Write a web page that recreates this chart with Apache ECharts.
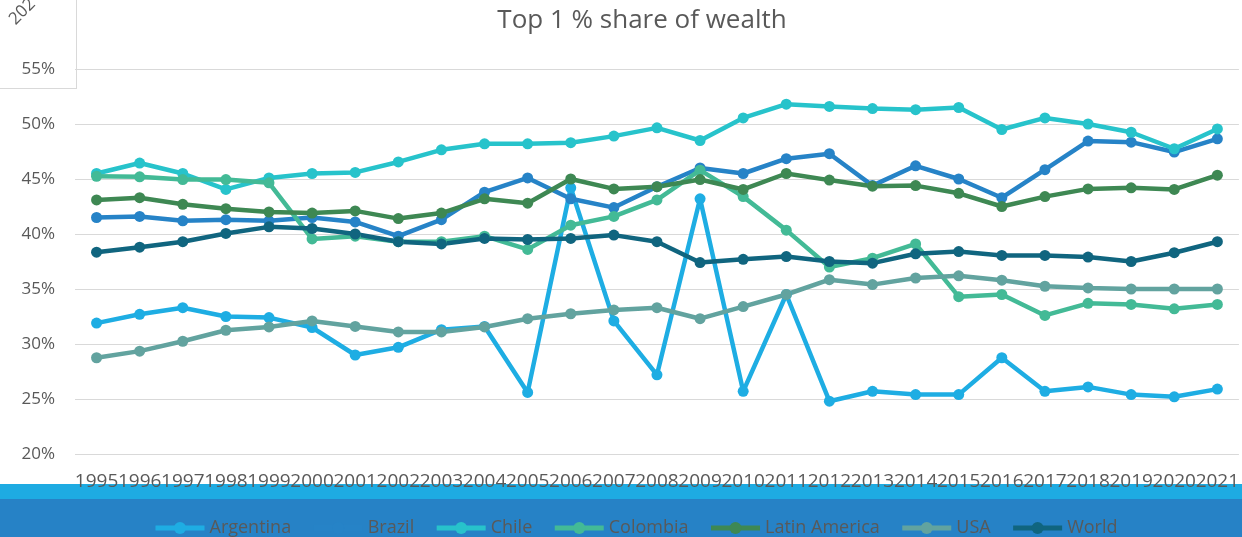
<!DOCTYPE html>
<html>
<head>
<meta charset="utf-8">
<script src="https://cdn.jsdelivr.net/npm/echarts@6/dist/echarts.min.js"></script>
<style>
  html, body { margin: 0; padding: 0; background: #ffffff; }
  #chart { width: 1242px; height: 537px; }
</style>
</head>
<body>
<div id="chart"></div>
<script>
const titleText = 'Top 1 % share of wealth';
const cornerText = '202';
const years = ['1995','1996','1997','1998','1999','2000','2001','2002','2003','2004','2005','2006','2007','2008','2009','2010','2011','2012','2013','2014','2015','2016','2017','2018','2019','2020','2021'];

const argentina = [31.9, 32.7, 33.3, 32.5, 32.4, 31.5, 29.0, 29.7, 31.3, 31.6, 25.6, 44.2, 32.1, 27.2, 43.2, 25.7, 34.5, 24.8, 25.7, 25.4, 25.4, 28.75, 25.7, 26.1, 25.4, 25.2, 25.9];
const brazil = [41.5, 41.6, 41.2, 41.3, 41.2, 41.5, 41.1, 39.8, 41.3, 43.8, 45.1, 43.2, 42.4, 44.3, 46.0, 45.5, 46.85, 47.3, 44.4, 46.2, 45.0, 43.3, 45.85, 48.45, 48.35, 47.45, 48.65];
const chile = [45.5, 46.45, 45.5, 44.05, 45.1, 45.5, 45.6, 46.55, 47.65, 48.2, 48.2, 48.3, 48.9, 49.65, 48.5, 50.55, 51.8, 51.6, 51.4, 51.3, 51.5, 49.5, 50.55, 50.0, 49.25, 47.75, 49.55];
const colombia = [45.25, 45.2, 44.95, 44.95, 44.65, 39.55, 39.8, 39.3, 39.3, 39.8, 38.6, 40.8, 41.6, 43.1, 45.8, 43.4, 40.35, 37.0, 37.8, 39.1, 34.3, 34.5, 32.6, 33.7, 33.6, 33.2, 33.6];
const latinAmerica = [43.1, 43.3, 42.7, 42.3, 42.0, 41.9, 42.1, 41.4, 41.9, 43.2, 42.8, 45.0, 44.1, 44.3, 44.95, 44.05, 45.5, 44.9, 44.35, 44.4, 43.7, 42.5, 43.4, 44.1, 44.2, 44.05, 45.35];
const usa = [28.75, 29.35, 30.25, 31.25, 31.55, 32.1, 31.6, 31.1, 31.1, 31.55, 32.3, 32.75, 33.1, 33.3, 32.3, 33.4, 34.5, 35.85, 35.4, 36.0, 36.2, 35.8, 35.25, 35.1, 35.0, 35.0, 35.0];
const world = [38.35, 38.8, 39.3, 40.05, 40.65, 40.5, 40.0, 39.3, 39.1, 39.6, 39.5, 39.6, 39.9, 39.3, 37.4, 37.7, 37.95, 37.5, 37.35, 38.2, 38.4, 38.05, 38.05, 37.9, 37.5, 38.3, 39.3];

const seriesNames = ['Argentina', 'Brazil', 'Chile', 'Colombia', 'Latin America', 'USA', 'World'];
const seriesData = [argentina, brazil, chile, colombia, latinAmerica, usa, world];
const seriesColors = ['#1EADE3', '#2683C7', '#27C3CB', '#43BA96', '#3E8853', '#62A39F', '#10657F'];

const FONT = '"Open Sans", "Noto Sans", sans-serif';
const TXT = '#595959';

const chart = echarts.init(document.getElementById('chart'), null, { renderer: 'canvas' });

const option = {
  animation: false,
  backgroundColor: '#ffffff',
  title: {
    text: titleText,
    left: 637,
    textAlign: 'center',
    top: 3,
    textStyle: { color: TXT, fontFamily: FONT, fontSize: 26, fontWeight: 'normal' }
  },
  graphic: [
    { type: 'rect', z: -10, silent: true, shape: { x: 0, y: 484, width: 1242, height: 15 }, style: { fill: '#1EABE2' } },
    { type: 'rect', z: -10, silent: true, shape: { x: 0, y: 499, width: 1242, height: 38 }, style: { fill: '#2682C6' } },
    { type: 'line', z: 10, silent: true, shape: { x1: 76.5, y1: 0, x2: 76.5, y2: 88 }, style: { stroke: '#D9D9D9', lineWidth: 1 } },
    { type: 'line', z: 10, silent: true, shape: { x1: 0, y1: 88.5, x2: 77, y2: 88.5 }, style: { stroke: '#D9D9D9', lineWidth: 1 } },
    { type: 'text', z: 10, silent: true, x: 6, y: 16, rotation: Math.PI / 4,
      style: { text: cornerText, fill: TXT, font: '17px "Open Sans", sans-serif', textBaseline: 'bottom', textAlign: 'left' } }
  ],
  legend: {
    data: seriesNames,
    left: 153,
    top: 519,
    padding: 0,
    itemGap: 20,
    itemWidth: 49,
    itemHeight: 15,
    lineStyle: { width: 5 },
    textStyle: { color: TXT, fontFamily: FONT, fontSize: 18 }
  },
  grid: { left: 75, top: 69, width: 1169, height: 385, containLabel: false },
  xAxis: {
    type: 'category',
    data: years,
    boundaryGap: true,
    axisLine: { show: false },
    axisTick: { show: false },
    axisLabel: { interval: 0, color: TXT, fontFamily: FONT, fontSize: 19, margin: 18, hideOverlap: false }
  },
  yAxis: {
    type: 'value',
    min: 20,
    max: 55,
    interval: 5,
    axisLine: { show: false },
    axisTick: { show: false },
    axisLabel: { color: TXT, fontFamily: FONT, fontSize: 17, margin: 20, formatter: '{value}%' },
    splitLine: { lineStyle: { color: '#D9D9D9', width: 1 } }
  },
  series: seriesNames.map((name, i) => ({
    name: name,
    type: 'line',
    data: seriesData[i],
    symbol: 'circle',
    symbolSize: 11,
    showAllSymbol: true,
    lineStyle: { width: 4.5, color: seriesColors[i] },
    itemStyle: { color: seriesColors[i] },
    emphasis: { disabled: true }
  }))
};

chart.setOption(option);
</script>
</body>
</html>
